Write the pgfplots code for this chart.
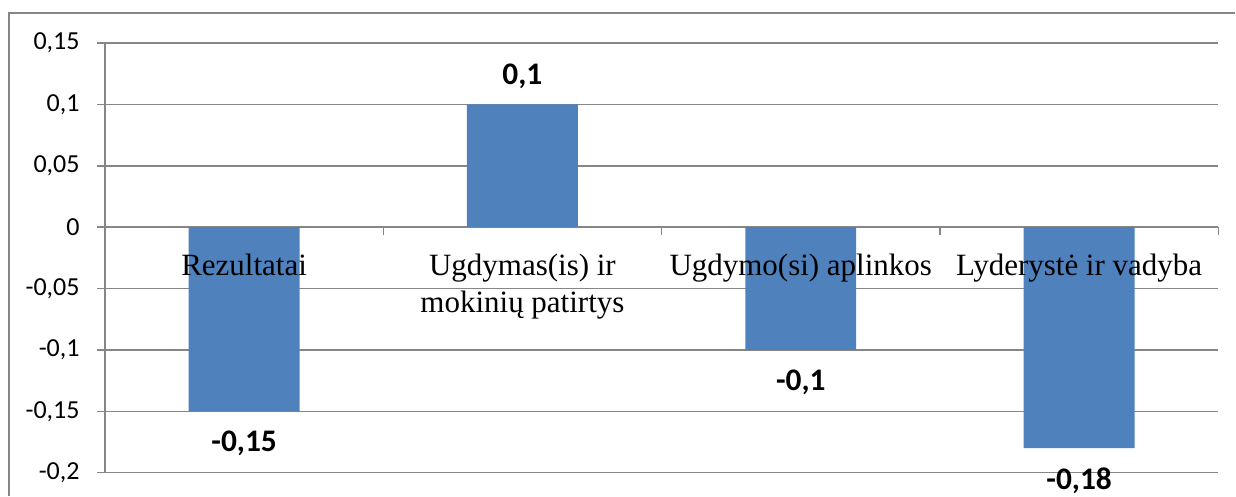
\documentclass[border=0pt]{standalone}
\usepackage{fontspec}
\setmainfont{Carlito}
\newfontfamily\tnr{Liberation Serif}
\usepackage{pgfplots}
\pgfplotsset{compat=1.18}
\definecolor{barblue}{HTML}{4F81BD}
\definecolor{gridgray}{HTML}{868686}
\pgfplotsset{layers/labelsontop/.define layer set={axis background,axis grid,axis ticks,axis lines,main,axis tick labels,axis descriptions,axis foreground}{
  grid style={/pgfplots/on layer=axis grid},
  tick style={/pgfplots/on layer=axis ticks},
  axis line style={/pgfplots/on layer=axis lines},
  label style={/pgfplots/on layer=axis descriptions},
  ticklabel style={/pgfplots/on layer=axis tick labels},
}}
\begin{document}
\begin{tikzpicture}
\path (-52.5pt,-11.5pt) rectangle (565.5pt,236.5pt);
\draw[gridgray, line width=0.75pt] (565.5pt,230pt) -- (-48pt,230pt) -- (-48pt,-11.5pt);
\begin{axis}[
  set layers=labelsontop,
  scale only axis, width=557pt, height=215pt,
  xmin=0, xmax=4, ymin=-0.2, ymax=0.15,
  ybar, bar width=55.5pt,
  axis y line*=left, axis x line*=middle,
  axis line style={gridgray, line width=0.75pt},
  ymajorgrids, grid style={gridgray, line width=0.75pt},
  tick style={gridgray, line width=0.75pt},
  major tick length=4pt, tick align=outside,
  ytick={-0.2,-0.15,-0.1,-0.05,0,0.05,0.1,0.15},
  yticklabels={{-0,2},{-0,15},{-0,1},{-0,05},{0},{0,05},{0,1},{0,15}},
  yticklabel style={font=\fontsize{13}{15}\selectfont, inner sep=0pt, xshift=-8.5pt},
  xtick={0,1,2,3,4}, xticklabels={},
  extra x ticks={0.5,1.5,2.5,3.5},
  extra x tick labels={Rezultatai,{Ugdymas(is) ir\\mokinių patirtys},{Ugdymo(si) aplinkos},{Lyderystė ir vadyba}},
  extra x tick style={major tick length=0pt},
  xticklabel style={font=\tnr\fontsize{15.5}{18.5}\selectfont, align=center, inner sep=0pt, anchor=north, yshift=-13pt},
  nodes near coords, nodes near coords align={vertical},
  point meta=y,
  nodes near coords={\pgfmathprintnumber[use comma, assume math mode=true]{\pgfplotspointmeta}},
  every node near coord/.append style={font=\fontsize{15.7}{16}\selectfont\bfseries, inner sep=0pt, text depth=0pt, outer sep=10pt, black},
]
\addplot[fill=barblue, draw=none] table[x=x, y=y] {
x y
0.5 -0.15
1.5 0.1
2.5 -0.1
3.5 -0.18
};
\end{axis}
\end{tikzpicture}
\end{document}
